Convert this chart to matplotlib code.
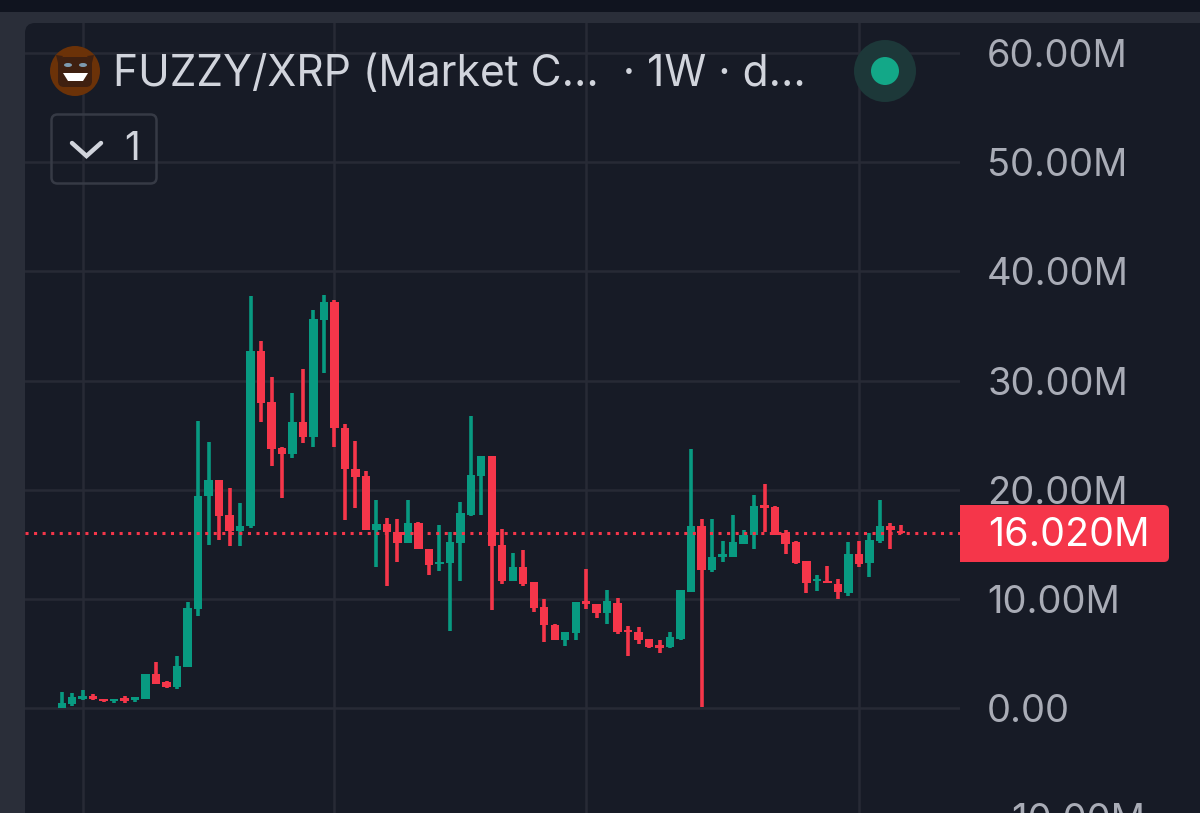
import matplotlib
matplotlib.use("Agg")
import matplotlib.pyplot as plt
from matplotlib.patches import Circle, Ellipse, FancyBboxPatch, Rectangle, Polygon

opens = [0, .37, .82, 1.07, .82, .67, .88, .70, .82, 3.08, 2.35, 1.92, 3.78, 9.06, 19.38, 20.9, 17.67, 16.23, 16.63, 32.74, 28.04,
         23.8, 23.25, 26.18, 24.84, 35.55, 37.23, 25.65, 21.93, 21.26, 16.35, 16.9, 16.16, 15.13, 16.99, 14.6, 13.17, 13.27, 15.13,
         17.72, 21.29, 23.12, 14.97, 11.62, 12.93, 11.5, 9.27, 7.65, 6.22, 6.89, 9.76, 9.51, 8.66, 9.66, 7.13, 6.98, 6.28, 5.79,
         5.58, 6.31, 10.64, 16.68, 12.68, 13.84, 13.87, 15.06, 15.88, 18.57, 18.41, 16.04, 15.18, 13.45, 11.59, 11.68, 11.4, 10.58,
         14.15, 13.29, 15.3, 16.65, 16.22]
closes = [.45, .98, 1.07, .82, .67, .82, .61, .98, 3.08, 2.23, 1.89, 3.88, 9.15, 19.44, 20.9, 17.6, 16.23, 16.72, 32.74, 27.98, 23.74,
          23.31, 26.18, 24.84, 35.64, 37.17, 25.63, 21.9, 21.17, 16.35, 16.9, 16.1, 15.13, 16.99, 14.55, 13.11, 13.42, 15.22, 17.84,
          21.32, 23.12, 14.88, 11.59, 12.93, 11.37, 9.18, 7.56, 6.22, 6.95, 9.69, 9.54, 8.66, 9.76, 6.92, 6.92, 6.22, 5.61, 5.52,
          6.46, 10.79, 16.68, 12.68, 13.87, 14.09, 15.18, 15.88, 18.48, 18.29, 15.82, 15.06, 13.32, 11.49, 11.8, 11.49, 10.64, 14.15,
          13.23, 15.37, 16.68, 16.28, 16.02]
highs = [1.46, 1.37, 1.62, 1.31, .82, .85, 1.07, .98, 3.08, 4.18, 2.5, 4.79, 9.67, 26.3, 24.35, 20.9, 20.14, 18.77, 37.75, 33.66, 30.33,
         23.95, 28.84, 31.03, 36.47, 37.84, 37.38, 26.02, 24.5, 21.75, 19.1, 17.42, 17.32, 19.03, 17.05, 14.6, 16.74, 16.13, 18.88,
         26.78, 23.12, 23.12, 16.41, 14.21, 14.46, 11.5, 10.0, 7.7, 6.95, 9.75, 12.75, 9.57, 10.79, 10.12, 7.53, 7.38, 6.28, 6.19,
         6.98, 10.85, 23.75, 17.29, 17.29, 15.3, 17.71, 16.28, 19.48, 20.52, 18.5, 16.28, 15.3, 13.5, 12.16, 13.02, 11.8, 15.21,
         15.34, 16.07, 19.09, 16.98, 16.77]
lows = [0, .21, .7, .7, .52, .46, .46, .52, .82, 2.23, 1.8, 1.74, 3.78, 8.39, 14.95, 15.35, 14.8, 14.86, 16.48, 26.18, 22.18,
        19.26, 22.89, 24.32, 23.89, 30.73, 23.89, 17.2, 18.3, 16.35, 12.96, 11.22, 13.36, 15.13, 14.55, 12.17, 12.53, 7.07, 11.68,
        17.6, 17.69, 8.96, 11.4, 11.62, 11.16, 8.78, 6.09, 6.22, 5.67, 6.22, 9.08, 8.23, 7.74, 6.74, 4.76, 5.88, 5.46, 5.03,
        5.46, 6.22, 10.64, 0.06, 12.44, 13.38, 13.87, 15.06, 14.54, 16.13, 15.82, 14.12, 13.17, 10.55, 10.7, 11.49, 10.0, 10.27,
        12.93, 11.98, 15.09, 14.54, 15.9]
y_ticks = [-10, 0, 10, 20, 30, 40, 50, 60]
y_labels = ["\u221210.00M", "0.00", "10.00M", "20.00M", "30.00M", "40.00M", "50.00M", "60.00M"]
x_grid = [2, 26, 50, 76]
last_price = 16.02
last_label = "16.020M"
title = "FUZZY/XRP (Market C...  \u00b7 1W \u00b7 d..."

UP, DOWN = "#089a81", "#f5364a"
GRID, PANEL, OUTER, TOP = "#272a35", "#171b26", "#2a2e39", "#10141f"
FONT = "Inter"
W, H = 1200, 813

fig = plt.figure(figsize=(W / 100, H / 100), dpi=100, facecolor=OUTER)

# window chrome, in pixels
bg = fig.add_axes([0, 0, 1, 1], zorder=-1)
bg.set_xlim(0, W); bg.set_ylim(H, 0); bg.axis("off")
bg.add_patch(Rectangle((0, 0), W, 12, color=TOP, lw=0))
bg.add_patch(FancyBboxPatch((25, 23), W + 50, H + 50, boxstyle="round,pad=0,rounding_size=10", fc=PANEL, ec="none"))

# price chart: the axes run from the -10M tick, just below the picture, to the panel top
px_left, px_right, px_top = 25, 960, 23
per_m, x0, dx = 10.915, 61.7, 10.49
px_bottom = 708 + 10 * per_m
ax = fig.add_axes([px_left / W, 1 - px_bottom / H, (px_right - px_left) / W, (px_bottom - px_top) / H], zorder=1)
ax.patch.set_alpha(0)
for s in ax.spines.values():
    s.set_visible(False)
ax.set_axisbelow(True)
ax.set_xticks(x_grid)
ax.tick_params(axis="x", length=0, labelbottom=False)
ax.yaxis.tick_right()
ax.set_yticks(y_ticks)
ax.set_yticklabels(y_labels, fontfamily=FONT, fontsize=27.4, color="#a9acb6")
ax.tick_params(axis="y", length=0, pad=19.5)
ax.grid(True, color=GRID, lw=1.8)

n = range(len(opens))
colors = [UP if c >= o else DOWN for o, c in zip(opens, closes)]
ax.vlines(n, lows, highs, colors=colors, lw=2.6, zorder=3)
ax.bar(n, [abs(c - o) for o, c in zip(opens, closes)], bottom=[min(o, c) for o, c in zip(opens, closes)],
       width=0.8, color=colors, lw=0, zorder=3)
ax.axhline(last_price, color=DOWN, lw=2.2, linestyle=(0, (1, 1.8)), zorder=4)
ax.set_xlim((px_left - x0) / dx, (px_right - x0) / dx)
ax.set_ylim(-10, (708 - px_top) / per_m)

# overlay widgets, in pixels
ov = fig.add_axes([0, 0, 1, 1], zorder=5)
ov.set_xlim(0, W); ov.set_ylim(H, 0); ov.axis("off")
ov.patch.set_alpha(0)
ov.add_patch(FancyBboxPatch((1120, 505), 49, 57, boxstyle="round,pad=0,rounding_size=5", fc=DOWN, ec="none"))
ov.add_patch(Rectangle((960, 505), 180, 57, color=DOWN, lw=0))
ov.text(988, 535, last_label, fontfamily=FONT, fontsize=28.4, color="white", va="center", ha="left")

ov.text(113, 74, title, fontfamily=FONT, fontsize=30.6, color="#d1d4dc", va="center", ha="left")

# token icon
ov.add_patch(Circle((75, 71), 25, fc="#6b3208", ec="none"))
ov.add_patch(FancyBboxPatch((58, 57), 34, 30, boxstyle="round,pad=0,rounding_size=6", fc="#3f2010", ec="none"))
ov.add_patch(Polygon([[56, 55], [63, 56], [58, 63]], fc="#3f2010", ec="none"))
ov.add_patch(Polygon([[94, 55], [87, 56], [92, 63]], fc="#3f2010", ec="none"))
ov.add_patch(Ellipse((68, 65), 8, 4, fc="#7d9bb0", ec="none"))
ov.add_patch(Ellipse((83, 65), 8, 4, fc="#7d9bb0", ec="none"))
ov.add_patch(Polygon([[63, 73], [88, 73], [83, 81], [68, 81]], fc="white", ec="none"))

# dropdown
ov.add_patch(FancyBboxPatch((51.5, 114.5), 105, 69, boxstyle="round,pad=0,rounding_size=6", fc="none", ec="#363a45", lw=1.8))
ov.plot([72, 86.5, 101], [143, 156, 143], color="#d1d4dc", lw=3.2, solid_capstyle="round", solid_joinstyle="miter")
ov.text(132, 149, "1", fontfamily=FONT, fontsize=28, color="#d1d4dc", va="center", ha="center")

# status dot
ov.add_patch(Circle((885, 71), 31, fc="#1d3839", ec="none"))
ov.add_patch(Circle((885, 71), 14, fc="#13a888", ec="none"))

fig.savefig("out.png", dpi=100, facecolor=fig.get_facecolor())
